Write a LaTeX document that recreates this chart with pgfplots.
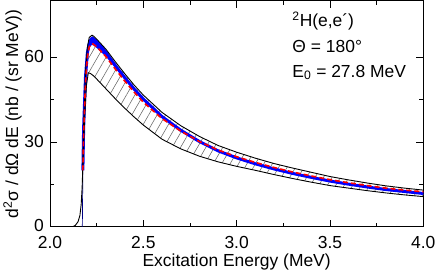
\documentclass[border=0pt]{standalone}
\usepackage{fontspec}
\setmainfont{Liberation Sans}
\usepackage{pgfplots}
\usepackage{pgfplotstable}
\pgfplotsset{compat=1.18}
\usepgfplotslibrary{fillbetween}
\usetikzlibrary{patterns.meta}

\pgfplotstableread{
E v
2.12 0
2.135 0.5
2.15 1.8
2.16 4
2.167 8
2.172 14
2.176 22
2.18 36
2.19 55
2.20 63.5
2.21 67
2.225 67.8
2.235 67.4
2.25 66.4
2.3 62.8
2.35 58.4
2.4 54.2
2.45 50.2
2.5 46.6
2.6 40.5
2.7 35.8
2.8 32.0
2.9 28.8
3.0 26.4
3.1 24.3
3.2 22.4
3.3 20.8
3.4 19.3
3.5 17.8
3.6 16.6
3.7 15.5
3.8 14.5
3.9 13.7
4.0 13.0
}\tabUpper

\pgfplotstableread{
E v
2.176 22
2.185 38
2.195 50
2.205 54.5
2.215 54.3
2.23 53.6
2.25 52.3
2.3 48.8
2.35 45.3
2.4 42
2.45 38.9
2.5 36.0
2.6 31.0
2.7 27.6
2.8 25.0
2.9 23.0
3.0 21.4
3.1 20.0
3.2 18.5
3.3 17.1
3.4 15.8
3.5 14.6
3.6 13.7
3.7 12.8
3.8 12.0
3.9 11.3
4.0 10.7
}\tabLower

\pgfplotstableread{
E v
2.176 20
2.18 35
2.19 53
2.20 61.5
2.21 64.8
2.22 65.7
2.23 65.8
2.25 64.8
2.3 61.4
2.35 57
2.4 52.8
2.45 48.8
2.5 45.2
2.6 39.0
2.7 34.2
2.8 30.2
2.9 26.9
3.0 24.4
3.1 22.3
3.2 20.5
3.3 18.9
3.4 17.5
3.5 16.2
3.6 15.1
3.7 14.1
3.8 13.2
3.9 12.5
4.0 11.8
}\tabBlue

\pgfplotstableread{
E v
2.176 20
2.19 54.5
2.20 63
2.21 66.3
2.22 67.2
2.23 67.3
2.25 66.3
2.3 62.6
2.35 57.8
2.4 53.4
2.5 45.4
2.5 45.0
2.4 52.2
2.35 56.2
2.3 60.2
2.25 63.3
2.23 64.3
2.22 64.2
2.21 63.3
2.20 60
2.19 51.5
2.176 20
}\tabBand

\pgfplotstableread{
E v
2.176 20
2.18 33
2.19 51
2.20 60
2.21 63.6
2.22 64.6
2.23 64.7
2.25 63.7
2.3 60.2
2.35 55.8
2.4 51.6
2.45 47.7
2.5 44.1
2.6 38.3
2.7 33.9
2.8 30.2
2.9 27.2
3.0 24.8
3.1 22.8
3.2 21.0
3.3 19.4
3.4 18.0
3.5 16.7
3.6 15.6
3.7 14.6
3.8 13.7
3.9 13.0
4.0 12.4
}\tabRed

\pgfplotstableread{
E v
2.173 0
2.176 20
}\tabStem

\begin{document}
\fontsize{17.5}{21}\selectfont
\begin{tikzpicture}
\begin{axis}[
  scale only axis, width=373bp, height=226bp,
  xmin=2, xmax=4, ymin=0, ymax=80,
  xtick={2,2.5,3,3.5,4}, minor x tick num=1,
  ytick={0,30,60}, minor y tick num=1,
  tick align=inside, major tick length=7bp, minor tick length=4bp,
  every tick/.style={black, line width=0.8bp},
  axis line style={line width=0.9bp},
  /pgf/number format/assume math mode=true,
  ticklabel style={font=\fontsize{17.5}{21}\selectfont, inner sep=1bp},
  xticklabel style={yshift=-8bp, /pgf/number format/.cd, fixed, fixed zerofill, precision=1},
  yticklabel style={xshift=-5bp, yshift=1bp},
  label style={font=\fontsize{17.5}{21}\selectfont},
  xlabel={Excitation Energy (MeV)},
  ylabel={d\textsuperscript{2}σ / dΩ dE (nb / (sr MeV))},
  xlabel style={at={(rel axis cs:0.5,-0.177)}, anchor=base},
  ylabel style={at={(rel axis cs:-0.0858,0.5)}, anchor=base},
  clip=true,
]
\coordinate (sw) at (rel axis cs:0,0);
\coordinate (ne) at (rel axis cs:1,1);
\addplot[draw=none, name path=U, forget plot] table[x=E,y=v] {\tabUpper};
\addplot[draw=none, name path=L, forget plot] table[x=E,y=v] {\tabLower};
\addplot[pattern={Lines[angle=60,distance=7.3bp,line width=0.55bp]}, pattern color=black!60, draw=none]
  fill between[of=U and L, soft clip={domain=2.176:4}];
\addplot[fill=blue, draw=none] table[x=E,y=v] {\tabBand} -- cycle;
\addplot[blue, line width=3bp] table[x=E,y=v] {\tabBlue};
\addplot[blue!50!black, line width=0.7bp] table[x=E,y=v] {\tabStem};
\addplot[black, line width=0.9bp] table[x=E,y=v] {\tabUpper};
\addplot[black, line width=0.9bp] table[x=E,y=v] {\tabLower};
\addplot[red, line width=1.6bp, dash pattern=on 5bp off 3bp] table[x=E,y=v] {\tabRed};
\node[anchor=base west, inner sep=0pt] at (rel axis cs:0.649,0.884) {\textsuperscript{2}H(e,e´)};
\node[anchor=base west, inner sep=0pt] at (rel axis cs:0.649,0.769) {Θ = 180°};
\node[anchor=base west, inner sep=0pt] at (rel axis cs:0.649,0.662) {E\textsubscript{0} = 27.8 MeV};
\end{axis}
\pgfresetboundingbox
\path ([shift={(-50bp,-43.3bp)}]sw) rectangle ([shift={(12.7bp,0.7bp)}]ne);
\end{tikzpicture}
\end{document}
